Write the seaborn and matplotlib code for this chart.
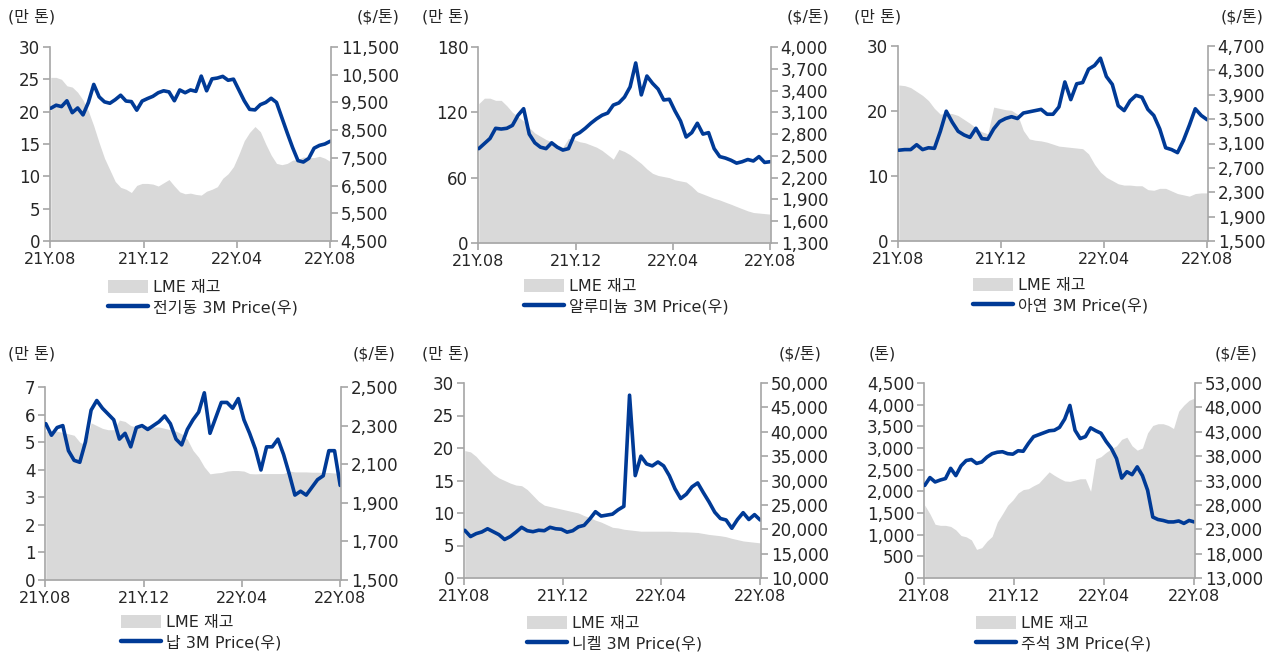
import pandas as pd
import matplotlib
matplotlib.use('Agg')
import matplotlib.pyplot as plt
import seaborn as sns
from matplotlib.patches import Patch
from matplotlib.lines import Line2D
from matplotlib.ticker import FuncFormatter

# weekly samples, 21Y.08 ~ 22Y.08
dates = pd.date_range('2021-08-02', periods=53, freq='7D')

# LME stock (left axis) and 3M price (right axis)
copper_stock = [25.3, 25.3, 25.0, 24.0, 23.8, 23.0, 21.8, 20.1, 17.8, 15.2, 12.8, 11.0, 9.2, 8.3,
                8.0, 7.5, 8.6, 8.9, 8.9, 8.8, 8.5, 9.0, 9.5, 8.5, 7.6, 7.3, 7.4, 7.2, 7.1, 7.7,
                8.0, 8.4, 9.7, 10.4, 11.5, 13.4, 15.5, 16.8, 17.7, 16.9, 15.0, 13.3, 12.0, 11.8,
                12.0, 12.5, 12.6, 13.0, 12.9, 12.9, 13.1, 12.8, 12.3]
copper_price = [9290, 9400, 9350, 9560, 9130, 9300, 9050, 9500, 10150, 9700, 9520, 9470, 9600,
                9760, 9550, 9530, 9220, 9550, 9640, 9720, 9850, 9920, 9880, 9560, 9950, 9850,
                9950, 9900, 10450, 9920, 10350, 10380, 10440, 10300, 10340, 9950, 9560, 9250,
                9230, 9420, 9500, 9650, 9500, 8950, 8400, 7870, 7400, 7350, 7480, 7850, 7950,
                8000, 8100]

alu_stock = [128, 133, 133, 131, 131, 126, 120, 116, 112, 106, 101, 98, 95, 93, 90, 88, 96, 95,
             93, 92, 90, 88, 85, 81, 77, 86, 84, 81, 77, 73, 68, 64, 62, 61, 60, 58, 57, 56, 52,
             47, 45, 43, 41, 39.5, 37.5, 35.6, 33.5, 31.5, 29.5, 28, 27.5, 27, 26.5]
alu_price = [2600, 2670, 2740, 2880, 2870, 2880, 2920, 3060, 3150, 2800, 2680, 2620, 2600, 2680,
             2620, 2580, 2600, 2780, 2820, 2880, 2950, 3010, 3060, 3090, 3200, 3230, 3310, 3450,
             3780, 3340, 3600, 3500, 3420, 3270, 3280, 3120, 2980, 2760, 2820, 2950, 2800, 2820,
             2600, 2490, 2470, 2440, 2400, 2420, 2450, 2430, 2490, 2410, 2420]

zinc_stock = [24.0, 23.9, 23.6, 23.0, 22.4, 21.6, 20.4, 19.5, 19.7, 19.6, 19.3, 18.7, 18.1, 17.4,
              16.8, 16.5, 20.6, 20.4, 20.2, 20.1, 19.5, 17.0, 15.7, 15.5, 15.4, 15.2, 14.9, 14.6,
              14.5, 14.4, 14.3, 14.2, 13.4, 11.8, 10.6, 9.8, 9.3, 8.8, 8.6, 8.6, 8.5, 8.5, 7.9,
              7.8, 8.1, 8.1, 7.7, 7.3, 7.1, 6.9, 7.3, 7.4, 7.4]
zinc_price = [2990, 3000, 3000, 3080, 3000, 3030, 3020, 3300, 3630, 3450, 3300, 3240, 3200, 3350,
              3180, 3170, 3340, 3460, 3510, 3540, 3510, 3600, 3620, 3640, 3660, 3580, 3580, 3700,
              4110, 3820, 4080, 4100, 4320, 4380, 4500, 4200, 4070, 3720, 3640, 3800, 3890, 3860,
              3660, 3560, 3340, 3030, 3000, 2950, 3150, 3400, 3670, 3560, 3490]

lead_stock = [5.4, 5.4, 5.4, 5.35, 5.3, 5.25, 5.0, 4.9, 5.7, 5.6, 5.5, 5.45, 5.45, 5.8, 5.75, 5.6,
              5.55, 5.55, 5.6, 5.55, 5.55, 5.5, 5.45, 5.4, 5.3, 5.1, 4.7, 4.45, 4.1, 3.85, 3.88,
              3.9, 3.95, 3.97, 3.97, 3.95, 3.86, 3.85, 3.86, 3.86, 3.86, 3.86, 3.86, 3.95, 3.92,
              3.92, 3.92, 3.91, 3.91, 3.9, 3.9, 3.88, 3.87]
lead_price = [2310, 2250, 2290, 2300, 2170, 2120, 2110, 2215, 2380, 2430, 2390, 2360, 2330, 2230,
              2260, 2190, 2290, 2300, 2280, 2300, 2320, 2350, 2310, 2230, 2200, 2280, 2330, 2370,
              2470, 2260, 2340, 2420, 2420, 2390, 2440, 2330, 2260, 2180, 2070, 2190, 2190, 2230,
              2150, 2050, 1940, 1960, 1940, 1980, 2020, 2040, 2170, 2170, 1990]

nickel_stock = [19.6, 19.4, 18.7, 17.7, 16.9, 16.0, 15.4, 15.0, 14.6, 14.3, 14.2, 13.6, 12.7, 11.8,
                11.2, 11.0, 10.8, 10.6, 10.4, 10.2, 10.0, 9.6, 9.3, 8.9, 8.6, 8.2, 7.8, 7.7, 7.5,
                7.4, 7.3, 7.2, 7.2, 7.2, 7.2, 7.2, 7.2, 7.15, 7.1, 7.1, 7.05, 7.0, 6.85, 6.7, 6.6,
                6.5, 6.35, 6.1, 5.9, 5.7, 5.6, 5.5, 5.4]
nickel_price = [19780, 18500, 19100, 19450, 20100, 19500, 18900, 17900, 18500, 19400, 20400, 19700,
                19500, 19800, 19700, 20400, 20100, 20000, 19400, 19700, 20500, 20800, 22100, 23600,
                22700, 22900, 23100, 24000, 24700, 47500, 31000, 35000, 33400, 33000, 33800, 33000,
                31000, 28300, 26300, 27200, 28700, 29500, 27500, 25600, 23500, 22200, 21900, 20200,
                22000, 23400, 22000, 23000, 21900]

tin_stock = [1680, 1480, 1240, 1215, 1215, 1190, 1110, 980, 950, 880, 660, 700, 850, 960, 1290, 1480,
             1680, 1800, 1960, 2040, 2060, 2130, 2190, 2320, 2450, 2370, 2300, 2240, 2230, 2260, 2290,
             2290, 2000, 2750, 2800, 2900, 2980, 3050, 3200, 3250, 3050, 2950, 3000, 3350, 3520,
             3560, 3560, 3520, 3450, 3850, 3990, 4100, 4150]
tin_price = [32000, 33600, 32700, 33100, 33400, 35500, 34000, 36000, 37100, 37300, 36500, 36800,
             37800, 38500, 38800, 38900, 38500, 38400, 39100, 39000, 40600, 42000, 42400, 42800,
             43200, 43300, 43900, 45600, 48400, 43300, 41600, 42000, 43800, 43200, 42700, 41000,
             39600, 37500, 33500, 34800, 34200, 35800, 34000, 31000, 25500, 25000, 24800, 24500,
             24500, 24700, 24200, 24800, 24500]

metal_names = ['전기동', '알루미늄', '아연', '납', '니켈', '주석']
stock_units = ['(만 톤)', '(만 톤)', '(만 톤)', '(만 톤)', '(만 톤)', '(톤)']
xtick_dates = ['2021-08-01', '2021-12-01', '2022-04-01', '2022-08-01']
xtick_labels = ['21Y.08', '21Y.12', '22Y.04', '22Y.08']

AREA = '#d9d9d9'
LINE = '#003a96'
SPINE = '#a6a6a6'
TEXT = '#262626'

sns.set_style('white')
plt.rcParams['font.family'] = ['DejaVu Sans', 'Noto Sans CJK KR']

W, H = 1279, 655
fig = plt.figure(figsize=(W / 100, H / 100), dpi=100)


def px_box(l, r, t, b):
    return [l / W, 1 - b / H, (r - l) / W, (b - t) / H]


comma = FuncFormatter(lambda v, p: f'{v:,.0f}')

panels = [
    # stock, price, left ticks, right ticks, axes box (px), unit label x/y, $ label right x, legend x/y
    (copper_stock, copper_price, range(0, 31, 5), range(4500, 11501, 1000), (50, 331, 47, 241), (8, 17), 399, (108, 280)),
    (alu_stock, alu_price, range(0, 181, 60), range(1300, 4001, 300), (478, 771, 47, 243), (422, 17), 829, (524, 279)),
    (zinc_stock, zinc_price, range(0, 31, 10), range(1500, 4701, 400), (898, 1208, 46, 241), (854, 17), 1263, (973, 278)),
    (lead_stock, lead_price, range(0, 8, 1), range(1500, 2501, 200), (45, 341, 387, 580), (8, 354), 395, (121, 615)),
    (nickel_stock, nickel_price, range(0, 31, 5), range(10000, 50001, 5000), (464, 761, 383, 578), (422, 354), 822, (527, 616)),
    (tin_stock, tin_price, range(0, 4501, 500), range(13000, 53001, 5000), (924, 1195, 383, 578), (869, 354), 1257, (976, 616)),
]

for i, (stock, price, lt, rt, box, unit_xy, dollar_x, leg_xy) in enumerate(panels):
    ax = fig.add_axes(px_box(*box))
    ax.fill_between(dates, stock, 0, color=AREA, linewidth=0, zorder=1)
    ax2 = ax.twinx()
    sns.lineplot(x=dates, y=price, ax=ax2, color=LINE, linewidth=2.6, legend=False)
    ax2.set_ylabel('')

    ax.set_xlim(pd.Timestamp('2021-08-01'), pd.Timestamp('2022-08-02'))
    ax.set_ylim(lt[0], lt[-1])
    ax2.set_ylim(rt[0], rt[-1])
    ax.set_yticks(list(lt))
    ax2.set_yticks(list(rt))
    ax.yaxis.set_major_formatter(comma)
    ax2.yaxis.set_major_formatter(comma)
    ax.set_xticks([pd.Timestamp(d) for d in xtick_dates])
    ax.set_xticklabels(xtick_labels)

    for a in (ax, ax2):
        for s in a.spines.values():
            s.set_visible(False)
    ax.spines['left'].set_visible(True)
    ax.spines['bottom'].set_visible(True)
    ax2.spines['right'].set_visible(True)
    for s in (ax.spines['left'], ax.spines['bottom'], ax2.spines['right']):
        s.set_color(SPINE)
        s.set_linewidth(1.2)

    ax.tick_params(axis='both', direction='out', length=5, width=1.2, color=SPINE,
                   labelsize=12, labelcolor=TEXT, pad=2)
    ax.tick_params(axis='x', pad=3, labelsize=11.5, bottom=True)
    ax.tick_params(axis='y', left=True)
    ax2.tick_params(axis='y', direction='out', length=5, width=1.2, color=SPINE,
                    labelsize=12, labelcolor=TEXT, pad=2, right=True)
    ax.set_xlabel('')
    ax.grid(False)
    ax2.grid(False)

    fig.text(unit_xy[0] / W, 1 - unit_xy[1] / H, stock_units[i], ha='left', va='center',
             fontsize=11.5, color=TEXT)
    fig.text(dollar_x / W, 1 - unit_xy[1] / H, '($/톤)', ha='right', va='center',
             fontsize=11.5, color=TEXT)

    handles = [Patch(facecolor=AREA, edgecolor='none'),
               Line2D([0], [0], color=LINE, linewidth=3.2)]
    labels = ['LME 재고', f'{metal_names[i]} 3M Price(우)']
    fig.legend(handles, labels, loc='upper left',
               bbox_to_anchor=(leg_xy[0] / W, 1 - leg_xy[1] / H),
               frameon=False, fontsize=11.5, handlelength=2.5, handleheight=0.8,
               handletextpad=0.3, labelspacing=0.3, borderpad=0, borderaxespad=0,
               labelcolor=TEXT)

fig.savefig('out.png', dpi=100)
